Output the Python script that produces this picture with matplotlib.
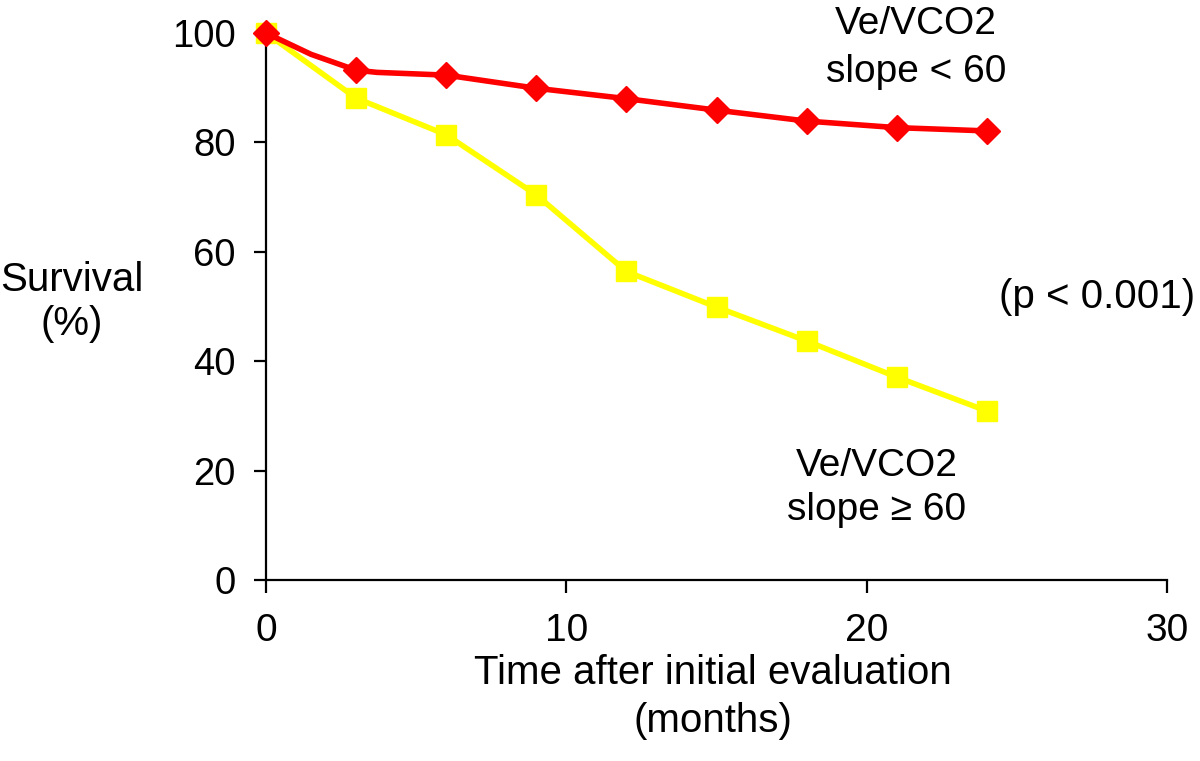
import matplotlib
matplotlib.use("Agg")
import matplotlib.pyplot as plt
from matplotlib import font_manager

# ---- data ----
months_marked = [0, 3, 6, 9, 12, 15, 18, 21, 24]
low_slope_line_months = [0, 1.5, 3, 3.7, 6, 9, 12, 15, 18, 21, 24]
low_slope_line_values = [100, 96.1, 93.2, 92.8, 92.3, 89.9, 88.0, 85.9, 83.9, 82.7, 82.1]
low_slope_marker_idx = [0, 2, 4, 5, 6, 7, 8, 9, 10]
high_slope_values = [100, 88.1, 81.4, 70.4, 56.4, 49.9, 43.7, 37.1, 30.9]
x_ticks = [0, 10, 20, 30]
y_ticks = [0, 20, 40, 60, 80, 100]

names = {f.name for f in font_manager.fontManager.ttflist}
main_font = "Liberation Sans" if "Liberation Sans" in names else "DejaVu Sans"
narrow_font = "Liberation Sans Narrow" if "Liberation Sans Narrow" in names else main_font
plt.rcParams["font.family"] = [main_font, "DejaVu Sans"]

fig = plt.figure(figsize=(12, 7.61), dpi=100)
ax = fig.add_axes([266 / 1200, 1 - 580 / 761, (1167 - 266) / 1200, (580 - 33) / 761])

ax.plot(months_marked, high_slope_values, color="#ffff00", lw=4.0,
        marker="s", ms=15, mec="#ffff00", mfc="#ffff00", clip_on=False, zorder=3)
ax.plot(low_slope_line_months, low_slope_line_values, color="#ff0000", lw=4.0,
        marker="D", ms=13, mec="#ff0000", mfc="#ff0000",
        markevery=low_slope_marker_idx, clip_on=False, zorder=4)

ax.set_xlim(0, 30)
ax.set_ylim(0, 100)
ax.set_xticks(x_ticks)
ax.set_yticks(y_ticks)
for s in ["top", "right"]:
    ax.spines[s].set_visible(False)
for s in ["left", "bottom"]:
    ax.spines[s].set_linewidth(1.6)
ax.tick_params(axis="both", direction="out", length=9, width=1.6, color="black")
ax.tick_params(axis="y", pad=13, labelsize=27.5)
ax.tick_params(axis="x", pad=15, labelsize=28)
for lab in ax.get_xticklabels():
    lab.set_family([narrow_font, "DejaVu Sans"])

fig.text(72 / 1200, 1 - 302 / 761, "Survival\n(%)", ha="center", va="center",
         fontsize=29, linespacing=1.2)
fig.text(713 / 1200, 1 - 697 / 761, "Time after initial evaluation\n(months)",
         ha="center", va="center", fontsize=29, linespacing=1.3,
         family=[narrow_font, "DejaVu Sans"])
fig.text(916 / 1200, 1 - 48 / 761, "Ve/VCO2\nslope < 60", ha="center", va="center",
         fontsize=28, linespacing=1.4)
fig.text(1097 / 1200, 1 - 297 / 761, "(p < 0.001)", ha="center", va="center",
         fontsize=29)
fig.text(877 / 1200, 1 - 488 / 761, "Ve/VCO2\nslope \u2265 60", ha="center", va="center",
         fontsize=28, linespacing=1.3)

fig.savefig("out.png", dpi=100)
